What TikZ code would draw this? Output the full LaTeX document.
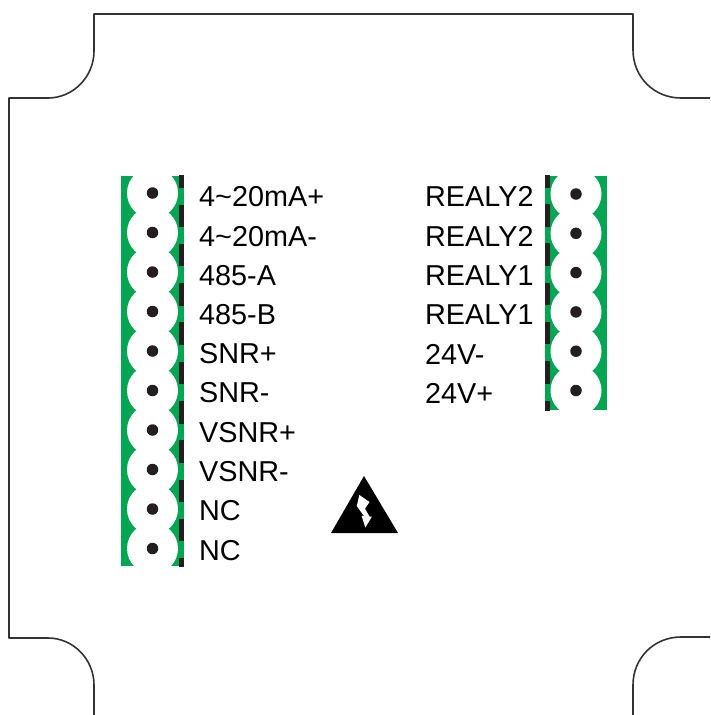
\documentclass[tikz,border=0pt]{standalone}
\usepackage{fontspec}
\setmainfont{Liberation Sans}
\definecolor{termgreen}{RGB}{0,166,81}
\definecolor{barblack}{RGB}{35,31,32}
\tikzset{
  outline/.style={draw=black!80,line width=1.6pt,line join=round},
  termlabel/.style={anchor=base west,inner sep=0pt,font=\fontsize{28.8}{30}\selectfont,text=black},
  hole/.style={circle,fill=white,draw=none,minimum size=51pt,inner sep=0pt},
  pin/.style={circle,fill=barblack,draw=none,minimum size=11.5pt,inner sep=0pt},
  dashbar/.style={fill=barblack,draw=none},
}
\begin{document}
\begin{tikzpicture}[x=1pt,y=-1pt]
\useasboundingbox (0,0) rectangle (710,715);
% outline
\draw[outline] (94,715) -- (94,685) .. controls (94,659) and (73,638) .. (48,638) -- (9,638) -- (9,98) -- (48,98)
  .. controls (73,98) and (94,77) .. (94,51) -- (94,14) -- (633,14) -- (633,50)
  .. controls (633,77) and (654,98) .. (681,98) -- (710,98);
\draw[outline] (710,637) -- (681,637) .. controls (654,637) and (633,658) .. (633,685) -- (633,715);
% left terminal
\fill[termgreen] (121,176) rectangle (184.3,566);
\foreach \i in {0,...,9} {
  \node[hole] (lh\i) at (152.5,{193+39.5*\i}) {};
}
\fill[white] (110,150) rectangle (190,176);
\fill[white] (110,566) rectangle (190,590);
\foreach \i in {0,...,9} {
  \node[pin] (lp\i) at (152.5,{193+39.5*\i}) {};
}
\fill[dashbar] (179,175) rectangle (184.3,188);
\foreach \i in {0,...,8} {
  \fill[dashbar] (179,{204.5+39.3*\i}) rectangle (184.3,{227+39.3*\i});
}
\fill[dashbar] (179,558) rectangle (184.3,567);
% right terminal
\fill[termgreen] (544.5,176) rectangle (607,410);
\foreach \i in {0,...,5} {
  \node[hole] (rh\i) at (576,{194+39.3*\i}) {};
}
\fill[white] (540,150) rectangle (612,176);
\fill[white] (540,410) rectangle (612,430);
\foreach \i in {0,...,5} {
  \node[pin] (rp\i) at (576,{194+39.3*\i}) {};
}
\fill[dashbar] (544.5,175) rectangle (550,188);
\foreach \i in {0,...,4} {
  \fill[dashbar] (544.5,{204+39.3*\i}) rectangle (550,{226.5+39.3*\i});
}
\fill[dashbar] (544.5,401) rectangle (550,411);
% labels
\node[termlabel] (l0) at (199,206) {4\char`~20mA+};
\node[termlabel] (l1) at (199,246) {4\char`~20mA-};
\node[termlabel] (l2) at (199,285.5) {485-A};
\node[termlabel] (l3) at (199,324.5) {485-B};
\node[termlabel] (l4) at (199,363.5) {SNR+};
\node[termlabel] (l5) at (199,402.5) {SNR-};
\node[termlabel] (l6) at (199,442) {VSNR+};
\node[termlabel] (l7) at (199,481) {VSNR-};
\node[termlabel] (l8) at (199,520) {NC};
\node[termlabel] (l9) at (199,560) {NC};
\node[termlabel] (r0) at (425,206.5) {REALY2};
\node[termlabel] (r1) at (425,246.5) {REALY2};
\node[termlabel] (r2) at (425,285.5) {REALY1};
\node[termlabel] (r3) at (425,324.5) {REALY1};
\node[termlabel] (r4) at (425,364) {24V-};
\node[termlabel] (r5) at (425,403) {24V+};
% warning sign
\fill[black] (364,476) -- (398,533) -- (331,533) -- cycle;
\fill[white] (359.3,495) -- (369.5,502) -- (365,508.7) -- (369.5,516.5) -- (372,516.5) -- (365.3,527.5) -- (361.5,515.5) -- (364.3,516.5) -- (356.8,506) -- cycle;
\end{tikzpicture}
\end{document}
